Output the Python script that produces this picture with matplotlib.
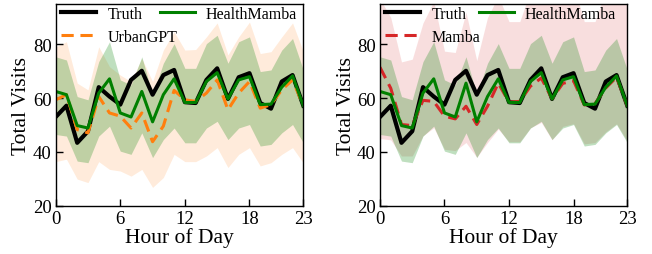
import numpy as np
import matplotlib
matplotlib.use('Agg')
import matplotlib.pyplot as plt

# ---------------------------------------------------------------------------
# Data
# ---------------------------------------------------------------------------

hours = list(range(24))
xtick_vals = [0, 6, 12, 18, 23]
ytick_vals = [20, 40, 60, 80]

truth = [53.0, 57.2, 43.4, 47.7, 64.1, 60.6, 57.6, 66.8, 70.2, 61.3, 68.6, 70.5,
         58.5, 58.2, 66.8, 71.1, 59.7, 67.8, 69.3, 58.2, 56.1, 66.2, 68.6, 57.2]

healthmamba_l = [62.5, 61.3, 49.8, 48.9, 61.9, 67.2, 54.5, 53.0, 62.5, 51.2, 61.3, 67.2,
                 58.4, 58.4, 66.2, 69.5, 59.7, 66.8, 68.0, 57.6, 57.8, 64.1, 68.3, 57.2]
healthmamba_r = [62.5, 61.3, 49.8, 48.9, 61.9, 67.2, 54.5, 53.0, 65.6, 51.2, 60.6, 67.2,
                 58.4, 58.4, 66.2, 69.5, 59.7, 66.8, 68.0, 57.6, 57.8, 64.1, 68.3, 57.2]
hm_upper = [75.4, 74.2, 60.6, 59.4, 73.6, 81.0, 66.8, 64.9, 75.4, 61.3, 73.0, 80.3,
            71.1, 71.1, 80.3, 83.4, 73.0, 81.0, 82.8, 69.9, 70.5, 77.9, 82.2, 70.5]
hm_lower = [46.5, 45.9, 36.6, 36.0, 45.9, 49.6, 40.3, 39.1, 47.1, 37.9, 44.6, 48.9,
            43.4, 43.4, 48.9, 51.4, 44.6, 48.9, 50.2, 42.2, 42.8, 47.1, 50.2, 43.4]

urbangpt = [59.4, 61.3, 48.3, 47.1, 60.6, 54.5, 53.3, 48.9, 54.5, 43.8, 49.6, 62.9,
            59.4, 58.8, 61.9, 66.8, 55.7, 61.9, 66.2, 56.3, 57.6, 63.1, 66.8, 57.2]
ug_upper = [79.1, 81.0, 65.6, 63.1, 79.1, 71.7, 68.6, 66.2, 74.8, 66.2, 77.9, 84.7,
            77.9, 78.1, 82.8, 88.0, 76.1, 82.8, 88.3, 76.6, 77.3, 82.8, 88.0, 77.3]
ug_lower = [36.4, 37.3, 29.9, 28.6, 36.4, 33.5, 32.9, 31.0, 33.5, 26.8, 30.5, 39.1,
            36.4, 36.4, 38.5, 41.6, 34.2, 39.1, 41.6, 34.8, 36.0, 39.1, 41.6, 35.9]

mamba = [71.5, 63.7, 50.2, 49.8, 59.2, 58.8, 53.3, 52.3, 57.0, 50.2, 57.0, 65.6,
         58.5, 58.8, 64.5, 67.5, 59.8, 65.5, 66.5, 57.5, 58.0, 63.8, 67.8, 57.2]
mb_upper = [97.0, 90.0, 73.5, 74.5, 88.0, 96.0, 77.5, 77.0, 92.0, 74.0, 90.0, 98.0,
            88.5, 88.5, 100.0, 103.0, 96.0, 100.0, 102.0, 88.5, 88.5, 100.0, 104.0, 95.0]
mb_lower = [45.0, 44.5, 38.5, 38.5, 46.0, 49.0, 41.0, 40.5, 43.5, 38.0, 43.5, 48.5,
            43.8, 43.8, 49.0, 51.0, 44.5, 49.5, 50.5, 43.0, 43.5, 47.5, 50.5, 44.0]

# ---------------------------------------------------------------------------
# Style
# ---------------------------------------------------------------------------

plt.rcParams.update({
    'font.family': ['Liberation Serif', 'DejaVu Serif'],
})

C_TRUTH = 'black'
C_HM = 'green'
C_UG = '#ff7f0e'
C_MB = '#d62728'


def style_axes(ax):
    ax.set_xlim(0, 23)
    ax.set_ylim(20, 95)
    ax.set_xticks(xtick_vals)
    ax.set_yticks(ytick_vals)
    ax.tick_params(direction='in', length=5, width=1, labelsize=13.5, pad=3)
    ax.set_xlabel('Hour of Day', fontsize=15.5, labelpad=0)
    ax.set_ylabel('Total Visits', fontsize=15.5, labelpad=1)
    for sp in ax.spines.values():
        sp.set_linewidth(1.0)


def draw_panel(ax, hm, base, base_up, base_lo, base_color, base_label, colsp):
    ax.fill_between(hours, base_lo, base_up, color=base_color, alpha=0.15, lw=0)
    ax.fill_between(hours, hm_lower, hm_upper, color=C_HM, alpha=0.25, lw=0)
    ax.plot(hours, truth, color=C_TRUTH, lw=3.0, label='Truth')
    ax.plot(hours, base, color=base_color, lw=2.2, ls=(0, (4, 2.2)), label=base_label)
    ax.plot(hours, hm, color=C_HM, lw=2.2, label='HealthMamba')
    ax.legend(loc='upper left', bbox_to_anchor=(0.015, 1.0), ncol=2, frameon=False,
              fontsize=11.5, handlelength=2.2, columnspacing=colsp, handletextpad=0.7,
              borderaxespad=0, borderpad=0.1, labelspacing=0.45)
    style_axes(ax)


fig = plt.figure(figsize=(6.52, 2.55), dpi=100)
ax1 = fig.add_axes([0.0854, 0.1894, 0.3798, 0.7906])
ax2 = fig.add_axes([0.5828, 0.1894, 0.3793, 0.7906])

draw_panel(ax1, healthmamba_l, urbangpt, ug_upper, ug_lower, C_UG, 'UrbanGPT', -1.1)
draw_panel(ax2, healthmamba_r, mamba, mb_upper, mb_lower, C_MB, 'Mamba', -0.1)

fig.savefig('out.png', dpi=100)
